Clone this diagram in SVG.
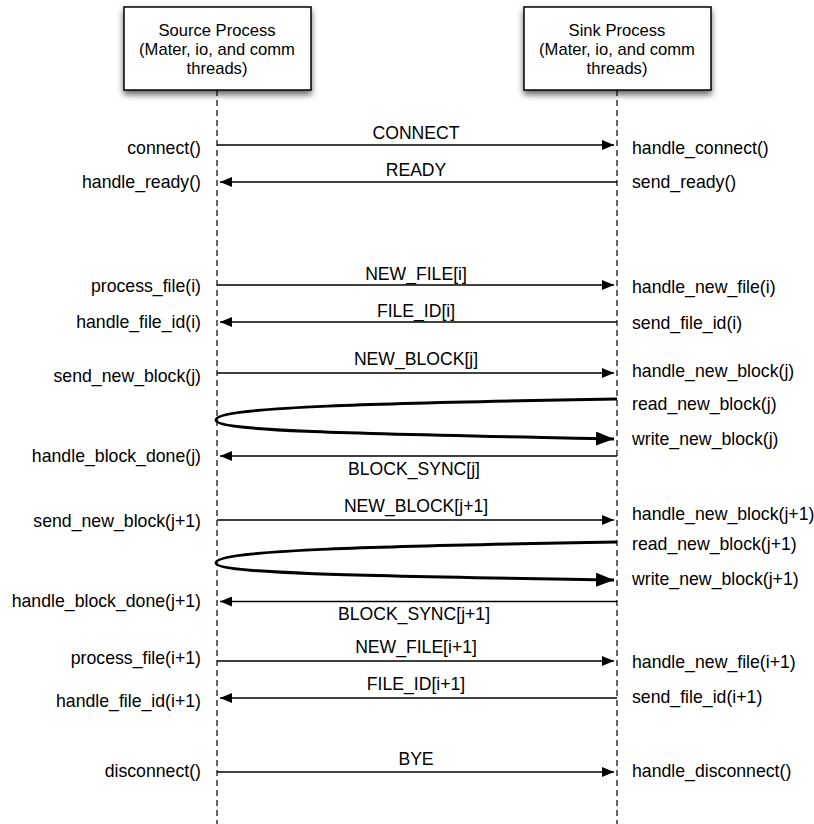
<svg xmlns="http://www.w3.org/2000/svg" width="814" height="824" viewBox="0 0 814 824">
<defs>
<filter id="sh" x="-10%" y="-10%" width="120%" height="140%">
<feDropShadow dx="0" dy="4" stdDeviation="3" flood-color="#000" flood-opacity="0.6"/>
</filter>
<marker id="ah" viewBox="0 0 12 10" refX="12" refY="5" markerWidth="12" markerHeight="10" markerUnits="userSpaceOnUse" orient="auto">
<path d="M0,0 L12,5 L0,10 Z" fill="#000"/>
</marker>
<marker id="ahb" viewBox="0 0 18 14" refX="18" refY="7" markerWidth="18" markerHeight="14" markerUnits="userSpaceOnUse" orient="auto">
<path d="M0,0 L18,7 L0,14 Z" fill="#000"/>
</marker>
</defs>
<style>
.box{fill:#fff;stroke:#000;stroke-width:1.5}
.life{stroke:#000;stroke-width:1.2;stroke-dasharray:6 4;fill:none}
.msg{stroke:#000;stroke-width:1.4;fill:none;marker-end:url(#ah)}
.loop{stroke:#000;stroke-width:3;fill:none;marker-end:url(#ahb)}
text{font-family:"Liberation Sans",Arial,sans-serif;fill:#000}
.bt{font-size:16.6px;text-anchor:middle}
.l{font-size:17.7px;text-anchor:end}
.r{font-size:17.7px;text-anchor:start}
.c{font-size:17.6px;text-anchor:middle}
</style>
<g id="source">
<rect class="box" x="124" y="7" width="187" height="83" filter="url(#sh)"/>
<text class="bt" x="217" y="36">Source Process</text>
<text class="bt" x="217" y="55">(Mater, io, and comm</text>
<text class="bt" x="217" y="74">threads)</text>
</g>
<g id="sink">
<rect class="box" x="524" y="7" width="187" height="83" filter="url(#sh)"/>
<text class="bt" x="617" y="36">Sink Process</text>
<text class="bt" x="617" y="55">(Mater, io, and comm</text>
<text class="bt" x="617" y="74">threads)</text>
</g>
<g id="lifelines">
<line class="life" x1="217" y1="90" x2="217" y2="824"/>
<line class="life" x1="617" y1="90" x2="617" y2="824"/>
</g>
<g id="connectors">
<line class="msg" x1="217" y1="145" x2="614" y2="145"/>
<line class="msg" x1="617" y1="182" x2="220" y2="182"/>
<line class="msg" x1="217" y1="285" x2="614" y2="285"/>
<line class="msg" x1="617" y1="322" x2="220" y2="322"/>
<line class="msg" x1="217" y1="373" x2="614" y2="373"/>
<path class="loop" d="M617,399 C380,403 216,407 216,420 C216,432 380,434 614,439"/>
<line class="msg" x1="617" y1="456" x2="220" y2="456"/>
<line class="msg" x1="217" y1="520" x2="614" y2="520"/>
<path class="loop" d="M617,542 C380,546 216,550 216,563 C216,574 380,576 614,580"/>
<line class="msg" x1="617" y1="601.5" x2="220" y2="601.5"/>
<line class="msg" x1="217" y1="661" x2="614" y2="661"/>
<line class="msg" x1="617" y1="698" x2="220" y2="698"/>
<line class="msg" x1="217" y1="772" x2="614" y2="772"/>
</g>
<g id="message-labels">
<text class="c" x="416" y="138.5">CONNECT</text>
<text class="c" x="416" y="175.5">READY</text>
<text class="c" x="416" y="279.5">NEW_FILE[i]</text>
<text class="c" x="416" y="316.5">FILE_ID[i]</text>
<text class="c" x="416" y="364.5">NEW_BLOCK[j]</text>
<text class="c" x="414" y="475">BLOCK_SYNC[j]</text>
<text class="c" x="416" y="511.5">NEW_BLOCK[j+1]</text>
<text class="c" x="414" y="619.5">BLOCK_SYNC[j+1]</text>
<text class="c" x="416" y="652.5">NEW_FILE[i+1]</text>
<text class="c" x="416" y="689.5">FILE_ID[i+1]</text>
<text class="c" x="416" y="764.5">BYE</text>
</g>
<g id="source-labels">
<text class="l" x="201" y="154">connect()</text>
<text class="l" x="201" y="188">handle_ready()</text>
<text class="l" x="201" y="292">process_file(i)</text>
<text class="l" x="201" y="328">handle_file_id(i)</text>
<text class="l" x="201" y="382">send_new_block(j)</text>
<text class="l" x="201" y="462">handle_block_done(j)</text>
<text class="l" x="201" y="527">send_new_block(j+1)</text>
<text class="l" x="201" y="607">handle_block_done(j+1)</text>
<text class="l" x="201" y="664">process_file(i+1)</text>
<text class="l" x="201" y="707">handle_file_id(i+1)</text>
<text class="l" x="201" y="777">disconnect()</text>
</g>
<g id="sink-labels">
<text class="r" x="632" y="154">handle_connect()</text>
<text class="r" x="632" y="188">send_ready()</text>
<text class="r" x="632" y="293">handle_new_file(i)</text>
<text class="r" x="632" y="329">send_file_id(i)</text>
<text class="r" x="632" y="377">handle_new_block(j)</text>
<text class="r" x="632" y="410">read_new_block(j)</text>
<text class="r" x="632" y="445">write_new_block(j)</text>
<text class="r" x="632" y="520">handle_new_block(j+1)</text>
<text class="r" x="632" y="550">read_new_block(j+1)</text>
<text class="r" x="632" y="585">write_new_block(j+1)</text>
<text class="r" x="632" y="668">handle_new_file(i+1)</text>
<text class="r" x="632" y="703">send_file_id(i+1)</text>
<text class="r" x="632" y="777">handle_disconnect()</text>
</g>
</svg>
